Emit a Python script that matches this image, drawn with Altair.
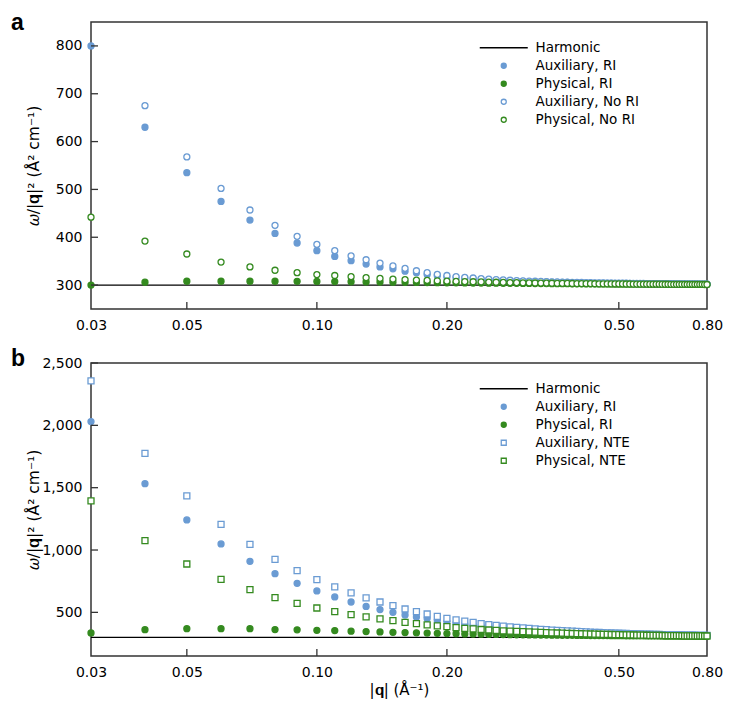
import altair as alt
import pandas as pd

# ---------------- data ----------------
Q = [0.03, 0.04, 0.05, 0.06, 0.07, 0.08, 0.09, 0.10, 0.11, 0.12,
     0.13, 0.14, 0.15, 0.16, 0.17, 0.18, 0.19, 0.20, 0.21, 0.22,
     0.23, 0.24, 0.25, 0.26, 0.27, 0.28, 0.29, 0.30, 0.31, 0.32,
     0.33, 0.34, 0.35, 0.36, 0.37, 0.38, 0.39, 0.40, 0.41, 0.42,
     0.43, 0.44, 0.45, 0.46, 0.47, 0.48, 0.49, 0.50, 0.51, 0.52,
     0.53, 0.54, 0.55, 0.56, 0.57, 0.58, 0.59, 0.60, 0.61, 0.62,
     0.63, 0.64, 0.65, 0.66, 0.67, 0.68, 0.69, 0.70, 0.71, 0.72,
     0.73, 0.74, 0.75, 0.76, 0.77, 0.78, 0.79, 0.80]

HARMONIC = 300
Q_EDGES = [0.03, 0.80]

# panel a
aux_ri_a = [800, 630, 535, 475, 436, 408, 388, 372,
            360, 351, 344, 338, 334, 329, 326, 322, 319.5, 317,
            315.5, 314, 312.8, 311.8, 310.9, 310.1, 309.4, 308.8, 308.3, 307.8,
            307.4, 307.0, 306.7, 306.4, 306.1, 305.8, 305.6, 305.4, 305.2, 305.0,
            304.8, 304.6, 304.5, 304.3, 304.2, 304.0, 303.9, 303.8, 303.7, 303.6,
            303.5, 303.4, 303.3, 303.2, 303.1, 303.0, 302.95, 302.9, 302.85, 302.8,
            302.75, 302.7, 302.65, 302.6, 302.55, 302.5, 302.45, 302.4, 302.35, 302.3,
            302.25, 302.2, 302.15, 302.1, 302.05, 302.0, 301.95, 301.9, 301.85, 301.8]
phys_ri_a = [300, 306, 308, 308, 308, 308, 307.8, 307.6,
             307.3, 307, 306.7, 306.4, 306.1, 305.8, 305.5, 305.3, 305.1, 304.9,
             304.7, 304.5, 304.3, 304.2, 304.0, 303.9, 303.8, 303.7, 303.6, 303.5,
             303.4, 303.3, 303.2, 303.1, 303.0, 302.95, 302.9, 302.85, 302.8, 302.75,
             302.7, 302.65, 302.6, 302.55, 302.5, 302.45, 302.4, 302.35, 302.3, 302.27,
             302.24, 302.21, 302.18, 302.15, 302.12, 302.09, 302.06, 302.03, 302.0, 301.97,
             301.94, 301.91, 301.88, 301.85, 301.82, 301.79, 301.76, 301.73, 301.7, 301.67,
             301.64, 301.61, 301.58, 301.55, 301.52, 301.49, 301.46, 301.43, 301.4, 301.37]
aux_nori_a = [None, 675, 568, 502, 457, 425, 402, 385,
              372, 361, 353, 346, 340, 335, 330, 326, 322.5, 320,
              317.8, 316.2, 314.8, 313.6, 312.5, 311.6, 310.8, 310.1, 309.5, 308.9,
              308.4, 308.0, 307.6, 307.2, 306.9, 306.6, 306.3, 306.0, 305.8, 305.6,
              305.4, 305.2, 305.0, 304.8, 304.6, 304.5, 304.3, 304.2, 304.1, 304.0,
              303.9, 303.8, 303.7, 303.6, 303.5, 303.4, 303.3, 303.2, 303.15, 303.1,
              303.0, 302.95, 302.9, 302.85, 302.8, 302.75, 302.7, 302.65, 302.6, 302.55,
              302.5, 302.45, 302.4, 302.35, 302.3, 302.25, 302.2, 302.15, 302.1, 302.05]
phys_nori_a = [442, 392, 365, 348, 338, 331, 326, 322,
               320, 317.5, 315.5, 314, 312.5, 311.5, 310.5, 309.7, 309, 308.4,
               307.9, 307.4, 307.0, 306.6, 306.2, 305.9, 305.6, 305.3, 305.0, 304.8,
               304.6, 304.4, 304.2, 304.0, 303.8, 303.7, 303.5, 303.4, 303.3, 303.2,
               303.1, 303.0, 302.9, 302.8, 302.7, 302.65, 302.6, 302.5, 302.45, 302.4,
               302.35, 302.3, 302.25, 302.2, 302.15, 302.1, 302.05, 302.0, 301.96, 301.92,
               301.88, 301.84, 301.8, 301.76, 301.72, 301.68, 301.64, 301.6, 301.57, 301.54,
               301.51, 301.48, 301.45, 301.42, 301.39, 301.36, 301.33, 301.3, 301.27, 301.24]

# panel b
aux_ri_b = [2030, 1532, 1241, 1049, 909, 810, 733, 672,
            624, 583, 548, 522, 500, 479, 463, 450, 434, 423,
            413, 404, 396, 389, 383, 377, 372, 368, 364, 360,
            357, 354, 351.5, 349, 347, 345, 343, 341.3, 339.7, 338.2,
            336.8, 335.4, 334.1, 332.9, 331.8, 330.7, 329.7, 328.7, 327.8, 326.9,
            326.0, 325.2, 324.4, 323.7, 323.0, 322.3, 321.7, 321.1, 320.5, 320.0,
            319.5, 319.0, 318.5, 318.0, 317.6, 317.2, 316.8, 316.4, 316.0, 315.7,
            315.4, 315.1, 314.8, 314.5, 314.2, 313.9, 313.7, 313.5, 313.3, 313.1]
phys_ri_b = [335, 361, 369, 369, 369, 362, 360, 356,
             354, 349, 346, 343, 340, 338, 336, 334, 332, 330,
             328.5, 327, 325.8, 324.7, 323.7, 322.8, 322.0, 321.3, 320.6, 320.0,
             319.4, 318.8, 318.3, 317.8, 317.3, 316.9, 316.5, 316.1, 315.7, 315.4,
             315.1, 314.8, 314.5, 314.2, 313.9, 313.7, 313.5, 313.3, 313.1, 312.9,
             312.7, 312.5, 312.3, 312.1, 311.9, 311.7, 311.6, 311.4, 311.3, 311.1,
             311.0, 310.8, 310.7, 310.6, 310.4, 310.3, 310.2, 310.1, 310.0, 309.9,
             309.8, 309.7, 309.6, 309.5, 309.4, 309.3, 309.2, 309.1, 309.0, 308.9]
aux_nte_b = [2356, 1775, 1434, 1206, 1046, 925, 835, 762,
             704, 656, 616, 583, 554, 527, 506, 487, 468, 452,
             440, 429, 419, 410, 402, 395, 389, 384, 379, 375,
             371, 367, 364, 361, 358, 355.5, 353, 351, 349, 347,
             345, 343.3, 341.7, 340.2, 338.8, 337.4, 336.1, 334.9, 333.7, 332.6,
             331.5, 330.5, 329.5, 328.6, 327.7, 326.9, 326.1, 325.3, 324.6, 323.9,
             323.2, 322.6, 322.0, 321.4, 320.8, 320.3, 319.8, 319.3, 318.8, 318.4,
             318.0, 317.6, 317.2, 316.8, 316.4, 316.1, 315.8, 315.5, 315.2, 314.9]
phys_nte_b = [1394, 1075, 888, 765, 682, 618, 572, 535,
              506, 482, 463, 447, 433, 420, 410, 399, 391, 385,
              378, 372, 367, 362.5, 358.5, 355, 352, 349.5, 347, 345,
              343, 341, 339.2, 337.5, 336, 334.5, 333.1, 331.8, 330.6, 329.5,
              328.4, 327.4, 326.4, 325.5, 324.6, 323.8, 323.0, 322.3, 321.6, 320.9,
              320.3, 319.7, 319.1, 318.5, 318.0, 317.5, 317.0, 316.5, 316.1, 315.7,
              315.3, 314.9, 314.5, 314.2, 313.9, 313.6, 313.3, 313.0, 312.7, 312.4,
              312.1, 311.9, 311.7, 311.5, 311.3, 311.1, 310.9, 310.7, 310.5, 310.3]

X_TICK_LABELS = [0.03, 0.05, 0.10, 0.20, 0.50, 0.80]
X_INNER_TICKS = [0.05, 0.10, 0.20, 0.50]
Y_TICKS_A = [300, 400, 500, 600, 700, 800]
Y_TICKS_B = [500, 1000, 1500, 2000, 2500]

# ---------------- style ----------------
BLUE = "#6a9bd3"
GREEN = "#348a1f"
FONT = "DejaVu Sans"
LINE_SYMBOL = "M-9.6,0H9.6"
W = 616
Y_TITLE = "\U0001D714/|\U0001D42A|\u00b2 (\u00c5\u00b2 cm\u207b\u00b9)"
X_TITLE = "|\U0001D42A| (\u00c5\u207b\u00b9)"


def long_df(series):
    rows = []
    for k, (name, vals) in enumerate(series):
        for qq, v in zip(Q, vals):
            if v is not None:
                rows.append({"q": qq, "v": v, "series": name, "k": k})
    return pd.DataFrame(rows)


def panel(series, open_shape, ydom, yvals, yfmt, letter, letter_y, xtitle, h):
    df = long_df(series)
    names = [n for n, _ in series]
    dom = ["Harmonic"] + names
    fills = ["transparent", BLUE, GREEN, "white", "white"]
    strokes = ["black", BLUE, GREEN, BLUE, GREEN]
    shapes = [LINE_SYMBOL, "circle", "circle", open_shape, open_shape]

    leg = alt.Legend(orient="none", legendX=406, legendY=19, title=None,
                     labelFontSize=13.5, labelFont=FONT, labelColor="black",
                     symbolSize=25, symbolStrokeWidth=1.3, rowPadding=3,
                     labelOffset=25, padding=0, labelLimit=0)

    xaxis_kw = dict(values=X_TICK_LABELS, format=".2f", labelFlush=False,
                    labelOverlap=False, ticks=False, tickSize=0, domain=False,
                    grid=False, labelFontSize=14, labelPadding=9,
                    labelColor="black", labelFont=FONT)
    if xtitle:
        xaxis = alt.Axis(title=xtitle, titleFontSize=15, titleFontWeight="normal",
                         titleColor="black", titleFont=FONT, titlePadding=3, **xaxis_kw)
    else:
        xaxis = alt.Axis(title=None, **xaxis_kw)
    yaxis = alt.Axis(values=yvals, format=yfmt, title=Y_TITLE, titleX=-58,
                     titleY=h / 2, titleAngle=-90, titleAlign="center",
                     titleBaseline="middle", titleFontSize=15.5,
                     titleFontWeight="normal", titleColor="black", titleFont=FONT,
                     ticks=False, tickSize=0, domain=False, grid=False,
                     labelFontSize=14, labelPadding=9, labelColor="black",
                     labelFont=FONT)
    xenc = alt.X("q:Q", scale=alt.Scale(type="log", domain=[0.03, 0.8], nice=False),
                 axis=xaxis)
    yenc = alt.Y("v:Q", scale=alt.Scale(domain=ydom, nice=False, zero=False),
                 axis=yaxis)

    harm = alt.Chart(pd.DataFrame({"q": Q_EDGES, "v": [HARMONIC, HARMONIC]})).mark_line(
        color="black", strokeWidth=1.3).encode(x=xenc, y=yenc)

    pts = alt.Chart(df).mark_point(size=36, strokeWidth=1.3, opacity=1).encode(
        x=xenc, y=yenc,
        fill=alt.Fill("series:N", scale=alt.Scale(domain=dom, range=fills), legend=leg),
        stroke=alt.Stroke("series:N", scale=alt.Scale(domain=dom, range=strokes), legend=leg),
        shape=alt.Shape("series:N", scale=alt.Scale(domain=dom, range=shapes), legend=leg),
        order=alt.Order("k:Q"),
    )

    xt = alt.Chart(pd.DataFrame({"q": X_INNER_TICKS})).mark_rule(
        color="#333", strokeWidth=1.3).encode(x=xenc, y=alt.value(h), y2=alt.value(h - 7))
    yt = alt.Chart(pd.DataFrame({"v": yvals})).mark_rule(
        color="#333", strokeWidth=1.3).encode(y=yenc, x=alt.value(0), x2=alt.value(7))

    txt = alt.Chart(pd.DataFrame({"t": [letter]})).mark_text(
        fontSize=23, fontWeight="bold", align="left", baseline="alphabetic",
        font="Liberation Sans", color="black").encode(
        text="t:N", x=alt.value(-80), y=alt.value(letter_y))

    return alt.layer(harm, pts, xt, yt, txt).properties(width=W, height=h)


pa = panel([("Auxiliary, RI", aux_ri_a), ("Physical, RI", phys_ri_a),
            ("Auxiliary, No RI", aux_nori_a), ("Physical, No RI", phys_nori_a)],
           "circle", [250, 850], Y_TICKS_A, "d", "a", 7.5, None, 287)
pb = panel([("Auxiliary, RI", aux_ri_b), ("Physical, RI", phys_ri_b),
            ("Auxiliary, NTE", aux_nte_b), ("Physical, NTE", phys_nte_b)],
           "square", [150, 2500], Y_TICKS_B, ",d", "b", 3, X_TITLE, 293)

chart = alt.vconcat(pa, pb, spacing=14).resolve_scale(
    x="independent", y="independent", fill="independent",
    stroke="independent", shape="independent"
).resolve_legend(
    fill="independent", stroke="independent", shape="independent"
).configure(
    font=FONT, padding={"left": 2, "top": 2, "right": 5, "bottom": 5}
).configure_view(stroke="#333", strokeWidth=1.5)

chart.save("out.html", embed_options={"renderer": "svg", "actions": False})
